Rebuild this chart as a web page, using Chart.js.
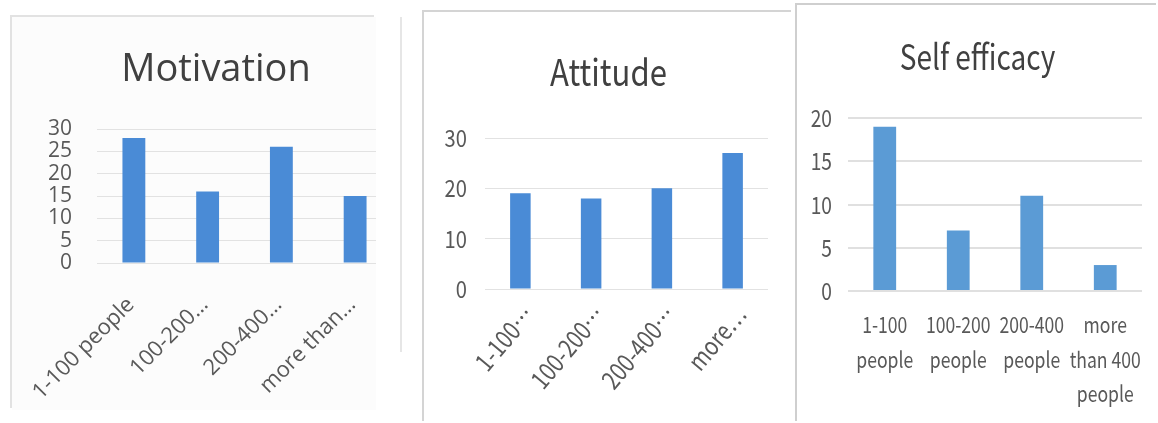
<!DOCTYPE html>
<html>
<head>
<meta charset="utf-8">
<script src="https://cdn.jsdelivr.net/npm/chart.js@4.4.0/dist/chart.umd.min.js"></script>
<style>
body { margin: 0; width: 1158px; height: 423px; background: #fff; position: relative; overflow: hidden; }
.panel { position: absolute; overflow: hidden; }
#p1 { left: 12px; top: 17px; width: 364px; height: 393px; background: #fcfcfc; box-shadow: -2px -2px 0 #e2e2e2; }
#p2 { left: 424px; top: 12px; width: 369px; height: 411px; background: #fff; box-shadow: -2px -2px 0 #d4d4d4; }
#p3 { left: 797px; top: 5px; width: 361px; height: 418px; background: #fff; box-shadow: -2px -2px 0 #cfcfcf; }
#edge1 { position: absolute; left: 400px; top: 17px; width: 2px; height: 335px; background: #e6e6e6; }
canvas { position: absolute; left: 0; top: 0; }
</style>
</head>
<body>
<div id="edge1"></div>
<div class="panel" id="p1"><canvas id="chart1" width="408" height="393"></canvas></div>
<div class="panel" id="p2"><canvas id="chart2" width="369" height="411"></canvas></div>
<div class="panel" id="p3"><canvas id="chart3" width="361" height="418"></canvas></div>
<script>
var categories = ['1-100 people', '100-200 people', '200-400 people', 'more than 400 people'];
var motivationLabels = ['1-100 people', '100-200\u2026', '200-400\u2026', 'more than\u2026'];
var attitudeLabels = ['1-100\u2026', '100-200\u2026', '200-400\u2026', 'more\u2026'];
var efficacyLabels = [['1-100', 'people'], ['100-200', 'people'], ['200-400', 'people'], ['more', 'than 400', 'people']];

var motivation = [28, 16, 26, 15];
var attitude = [19, 18, 20, 27];
var selfEfficacy = [19, 7, 11, 3];

var motivationTicks = [0, 5, 10, 15, 20, 25, 30];
var attitudeTicks = [0, 10, 20, 30];
var efficacyTicks = [0, 5, 10, 15, 20];

var wideFont = "'Open Sans', 'DejaVu Sans', sans-serif";
var narrowFont = "'Noto Sans CJK SC', 'Roboto', sans-serif";

function makeChart(id, c) {
  var ctx = document.getElementById(id).getContext('2d');
  // the source screenshots were squashed sideways, so the text is narrower than any installed font
  if (c.squeeze) {
    var fill = ctx.fillText;
    ctx.fillText = function (text, x, y) {
      this.save();
      this.translate(x, y);
      this.scale(c.squeeze, 1);
      fill.call(this, text, 0, 0);
      this.restore();
    };
  }
  return new Chart(ctx, {
    type: 'bar',
    data: {
      labels: c.labels,
      datasets: [{
        data: c.values,
        backgroundColor: c.color,
        borderWidth: 0,
        barPercentage: c.barPct,
        categoryPercentage: 1
      }]
    },
    options: {
      responsive: false,
      animation: false,
      layout: { padding: 0 },
      plugins: {
        legend: { display: false },
        tooltip: { enabled: false },
        title: {
          display: true,
          text: c.title,
          color: '#404040',
          font: { family: c.titleFamily, size: c.titleSize, weight: 'normal', lineHeight: 1.2 },
          padding: { top: c.titleCenter - 0.6 * c.titleSize, bottom: c.top - c.titleCenter - 0.6 * c.titleSize }
        }
      },
      scales: {
        x: {
          grid: { display: false, drawTicks: false },
          border: { display: false },
          ticks: {
            color: '#595959',
            font: { family: c.family, size: c.xSize, lineHeight: c.xLine || 1.2 },
            padding: c.xPad,
            labelOffset: c.xShift || 0,
            autoSkip: false,
            minRotation: c.rot,
            maxRotation: c.rot
          },
          afterFit: function (s) {
            s.height = c.bottom;
            // labels may hang past the plot edges, keep the plot where it is
            s.paddingLeft = 0;
            s.paddingRight = 0;
          }
        },
        y: {
          min: 0,
          max: c.ticks[c.ticks.length - 1],
          afterBuildTicks: function (s) { s.ticks = c.ticks.map(function (v) { return { value: v }; }); },
          grid: { color: c.gridColor, lineWidth: c.gridWidth, drawTicks: false },
          border: { display: false },
          ticks: {
            color: '#595959',
            font: { family: c.family, size: c.ySize, lineHeight: 1 },
            padding: c.yPad,
            autoSkip: false
          },
          afterFit: function (s) { s.width = c.left; }
        },
        pad: {
          type: 'linear',
          position: 'right',
          display: true,
          grid: { display: false, drawTicks: false },
          border: { display: false },
          ticks: { display: false },
          afterFit: function (s) { s.width = c.right; }
        }
      }
    }
  });
}

makeChart('chart1', {
  title: 'Motivation', titleFamily: wideFont, titleSize: 38, titleCenter: 53,
  labels: motivationLabels, values: motivation, color: '#4a8bd6', barPct: 0.31,
  family: wideFont, xSize: 22, ySize: 21, xPad: 29, yPad: 25, rot: 45, xShift: -3,
  ticks: motivationTicks, gridColor: '#e2e2e2', gridWidth: 1,
  top: 112, left: 85, right: 28, bottom: 147
});

makeChart('chart2', {
  title: 'Attitude', titleFamily: narrowFont, titleSize: 37, titleCenter: 60,
  labels: attitudeLabels, values: attitude, color: '#4a8bd6', barPct: 0.29,
  family: narrowFont, xSize: 25, ySize: 24, xPad: 11, yPad: 18, rot: 50, xShift: 8, squeeze: 0.84,
  ticks: attitudeTicks, gridColor: '#e2e2e2', gridWidth: 1,
  top: 126, left: 61, right: 25, bottom: 134
});

makeChart('chart3', {
  title: 'Self efficacy', titleFamily: narrowFont, titleSize: 35, titleCenter: 52,
  labels: efficacyLabels, values: selfEfficacy, color: '#5b9bd5', barPct: 0.31,
  family: narrowFont, xSize: 22, xLine: 1.55, ySize: 24, xPad: 17, yPad: 16, rot: 0, squeeze: 0.8,
  ticks: efficacyTicks, gridColor: '#e0e0e0', gridWidth: 2,
  top: 113, left: 51, right: 16, bottom: 132
});
</script>
</body>
</html>
